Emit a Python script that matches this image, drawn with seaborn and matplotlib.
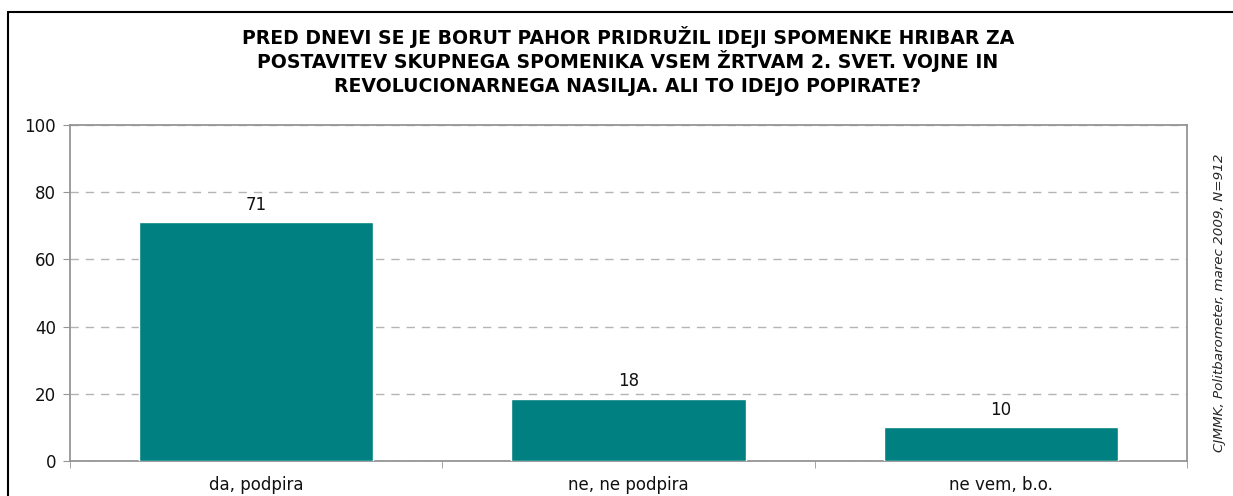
import matplotlib
matplotlib.use('Agg')
import matplotlib.pyplot as plt
import seaborn as sns
import pandas as pd
from matplotlib.lines import Line2D

categories = ['da, podpira', 'ne, ne podpira', 'ne vem, b.o.']
values = [71.0, 18.5, 10.1]
labels = ['71', '18', '10']
y_ticks = [0, 20, 40, 60, 80, 100]

title_lines = ['PRED DNEVI SE JE BORUT PAHOR PRIDRUŽIL IDEJI SPOMENKE HRIBAR ZA',
               'POSTAVITEV SKUPNEGA SPOMENIKA VSEM ŽRTVAM 2. SVET. VOJNE IN',
               'REVOLUCIONARNEGA NASILJA. ALI TO IDEJO POPIRATE?']
source = 'CJMMK, Politbarometer, marec 2009, N=912'

sns.set_style('white')
plt.rcParams['font.family'] = ['DejaVu Sans']

df = pd.DataFrame({'odgovor': categories, 'delez': values})

fig = plt.figure(figsize=(12.33, 4.96), dpi=100)
ax = fig.add_axes([70 / 1233, 35 / 496, 1117 / 1233, 336 / 496])

sns.barplot(data=df, x='odgovor', y='delez', color='#008080', width=0.63,
            saturation=1, ax=ax, zorder=3)

for i, (v, lab) in enumerate(zip(values, labels)):
    ax.text(i, v + 2.5, lab, ha='center', va='bottom', fontsize=12, color='#111111')

ax.set_ylim(0, 100)
ax.set_xlim(-0.5, 2.5)
ax.set_yticks(y_ticks)
ax.set_xlabel('')
ax.set_ylabel('')
ax.yaxis.grid(True, linestyle=(0, (6, 5)), color='#b4b4b4', linewidth=1)
ax.set_axisbelow(True)
for s in ax.spines.values():
    s.set_color('#959595')
    s.set_linewidth(1.3)
ax.tick_params(axis='y', length=5, color='#959595', labelsize=12, pad=5, direction='out',
               left=True, labelcolor='#111111')
ax.tick_params(axis='x', which='major', length=0, labelsize=12, pad=11, labelcolor='#111111')
ax.set_xticks([-0.5, 0.5, 1.5, 2.5], minor=True)
ax.tick_params(axis='x', which='minor', length=5, color='#959595', direction='out', bottom=True)

# title as three lines placed on fixed baselines
for k, line in enumerate(title_lines):
    fig.text(628 / 1233, 1 - (43.5 + 24.5 * k) / 496, line, ha='center', va='baseline',
             fontsize=13.6, fontweight='bold', color='#000000')
fig.text(1219 / 1233, 1 - 303 / 496, source, rotation=90, ha='center', va='center',
         fontsize=9.7, style='italic')

fig.add_artist(Line2D([8 / 1233, 1], [1 - 12 / 496, 1 - 12 / 496], color='black', linewidth=1.5))
fig.add_artist(Line2D([8 / 1233, 8 / 1233], [0, 1 - 12 / 496], color='black', linewidth=1.5))

fig.savefig('out.png', dpi=100)
